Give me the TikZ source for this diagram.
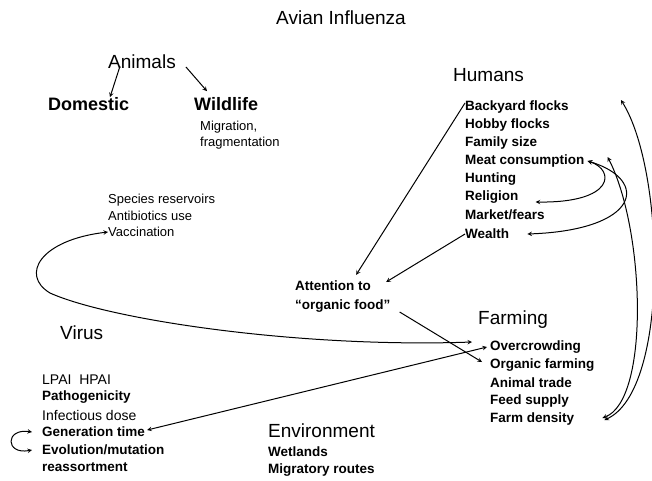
\documentclass[tikz,border=0pt]{standalone}
\usepackage{fontspec}
\setmainfont{Liberation Sans}

\begin{document}
\begin{tikzpicture}[
    x=1pt, y=-1pt,
    head/.style={font=\fontsize{19}{22}\selectfont, anchor=west, inner sep=0pt},
    group/.style={font=\bfseries\fontsize{18}{21}\selectfont, anchor=west, inner sep=0pt},
    item/.style={font=\bfseries\fontsize{13.5}{16}\selectfont, anchor=west, inner sep=0pt},
    note/.style={font=\fontsize{13}{15}\selectfont, anchor=west, inner sep=0pt},
    arrow/.style={->, >=stealth, line width=1pt},
    dblarrow/.style={<->, >=stealth, line width=1pt}
  ]
    \useasboundingbox (0,0) rectangle (652,480);

    % Title
    \node[head, anchor=center] (title) at (341,18) {Avian Influenza};

    % Animals
    \node[head] (animals) at (108,62) {Animals};
    \node[group] (domestic) at (48,104) {Domestic};
    \node[group] (wildlife) at (194,104) {Wildlife};
    \node[note] (migration) at (200,127) {Migration,};
    \node[note] (fragment) at (200,143) {fragmentation};

    % Reservoirs
    \node[note] (species) at (108,200) {Species reservoirs};
    \node[note] (antibio) at (108,216) {Antibiotics use};
    \node[note] (vaccin) at (108,232) {Vaccination};

    % Humans
    \node[head] (humans) at (453,75) {Humans};
    \node[item] (backyard) at (465,107) {Backyard flocks};
    \node[item] (hobby) at (465,125) {Hobby flocks};
    \node[item] (family) at (465,143) {Family size};
    \node[item] (meat) at (465,161) {Meat consumption};
    \node[item] (hunting) at (465,179) {Hunting};
    \node[item] (religion) at (465,197) {Religion};
    \node[item] (market) at (465,215) {Market/fears};
    \node[item] (wealth) at (465,234) {Wealth};

    % Organic food
    \node[item] (attention) at (295,286) {Attention to};
    \node[item] (organic) at (295,306) {“organic food”};

    % Virus
    \node[head] (virus) at (60,333) {Virus};
    \node[note, font=\fontsize{14}{16}\selectfont] (lpai) at (42,380) {LPAI\ \ HPAI};
    \node[item] (patho) at (42,397) {Pathogenicity};
    \node[note, font=\fontsize{14}{16}\selectfont] (dose) at (42,415) {Infectious dose};
    \node[item] (gentime) at (42,432) {Generation time};
    \node[item] (evol) at (42,450) {Evolution/mutation};
    \node[item] (reass) at (42,467) {reassortment};

    % Farming
    \node[head] (farming) at (478,320) {Farming};
    \node[item] (overcrowd) at (490,347) {Overcrowding};
    \node[item] (orgfarm) at (490,365) {Organic farming};
    \node[item] (trade) at (490,383) {Animal trade};
    \node[item] (feed) at (490,401) {Feed supply};
    \node[item] (density) at (490,419) {Farm density};

    % Environment
    \node[head] (environment) at (268,431) {Environment};
    \node[item] (wetlands) at (268,452) {Wetlands};
    \node[item] (routes) at (268,470) {Migratory routes};

    % Arrows
    \draw[arrow] ([shift={(12pt,3pt)}]animals.south west) -- ([xshift=62pt]domestic.north west);
    \draw[arrow] ([shift={(10pt,-5pt)}]animals.east) -- ([shift={(13pt,6pt)}]wildlife.north west);
    \draw[dblarrow] (vaccin.west) .. controls (40,240) and (20,275) .. (50,293)
        .. controls (110,320) and (300,348) .. ([shift={(-18pt,5pt)}]overcrowd.west);
    \draw[arrow] ([yshift=4pt]backyard.west) -- ([shift={(-15pt,6pt)}]attention.north east);
    \draw[arrow] (wealth.west) -- ([shift={(15pt,4pt)}]attention.east);
    \draw[arrow] ([shift={(9pt,-6pt)}]organic.east) -- ([shift={(-8pt,3pt)}]orgfarm.west);
    \draw[dblarrow] ([shift={(2pt,2pt)}]gentime.east) -- ([xshift=-3pt]overcrowd.west);
    \draw[dblarrow] ([xshift=-10pt]gentime.west) .. controls (5,428) and (5,455) .. ([xshift=-10pt]evol.west);
    \draw[dblarrow] ([xshift=3pt]meat.east) .. controls (615,170) and (615,203) .. ([shift={(17pt,-5pt)}]religion.east);
    \draw[dblarrow] ([xshift=3pt]meat.east) .. controls (650,180) and (640,230) .. ([xshift=18pt]wealth.east);
    \draw[dblarrow] ([shift={(23pt,4pt)}]meat.east) .. controls (645,230) and (650,400) .. ([shift={(28pt,1pt)}]density.east);
    \draw[dblarrow] ([shift={(52pt,7pt)}]backyard.east) .. controls (665,170) and (670,390) .. ([shift={(30pt,-1pt)}]density.east);

  \end{tikzpicture}
\end{document}
